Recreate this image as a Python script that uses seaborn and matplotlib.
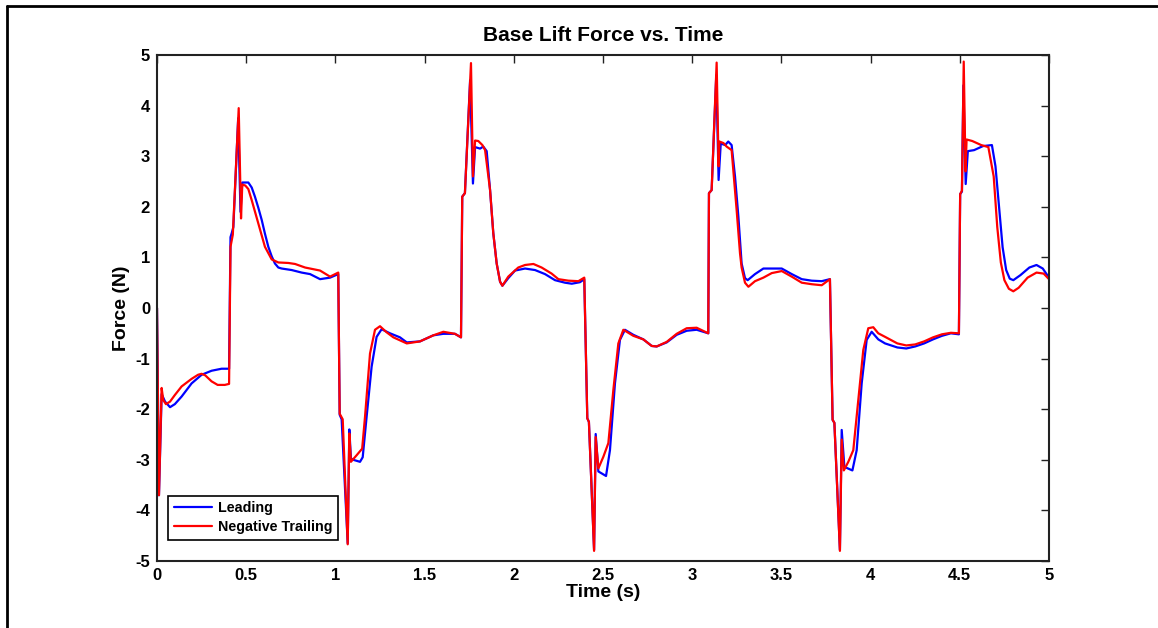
import matplotlib
matplotlib.use("Agg")
import matplotlib.pyplot as plt
from matplotlib.lines import Line2D
import seaborn as sns
import pandas as pd

# ---- data ----
lead_t = [0.000, 0.011, 0.026, 0.045, 0.073, 0.100, 0.138, 0.194, 0.250, 0.306,
          0.362, 0.404, 0.412, 0.419, 0.428, 0.455, 0.468, 0.478, 0.512, 0.531,
          0.549, 0.568, 0.587, 0.605, 0.624, 0.643, 0.661, 0.680, 0.699, 0.755,
          0.811, 0.858, 0.914, 0.970, 1.016, 1.024, 1.035, 1.069, 1.078, 1.087,
          1.100, 1.138, 1.153, 1.175, 1.203, 1.231, 1.259, 1.306, 1.362, 1.400,
          1.474, 1.549, 1.605, 1.670, 1.704, 1.711, 1.726, 1.755, 1.771, 1.783,
          1.811, 1.829, 1.848, 1.867, 1.885, 1.904, 1.923, 1.936, 1.969, 2.007,
          2.063, 2.119, 2.175, 2.231, 2.287, 2.325, 2.371, 2.395, 2.412, 2.421,
          2.450, 2.459, 2.474, 2.517, 2.539, 2.567, 2.595, 2.623, 2.670, 2.726,
          2.773, 2.801, 2.857, 2.913, 2.969, 3.025, 3.090, 3.094, 3.109, 3.135,
          3.148, 3.160, 3.185, 3.202, 3.221, 3.240, 3.259, 3.277, 3.296, 3.311,
          3.352, 3.399, 3.446, 3.502, 3.558, 3.614, 3.670, 3.726, 3.772, 3.787,
          3.797, 3.828, 3.838, 3.853, 3.898, 3.922, 3.950, 3.978, 4.006, 4.043,
          4.081, 4.150, 4.200, 4.250, 4.300, 4.350, 4.400, 4.450, 4.495, 4.502,
          4.512, 4.520, 4.533, 4.545, 4.580, 4.630, 4.680, 4.700, 4.720, 4.740,
          4.760, 4.780, 4.800, 4.840, 4.890, 4.930, 4.965, 5.000]
lead_v = [0.00, -3.70, -1.70, -1.85, -1.96, -1.90, -1.75, -1.49, -1.32, -1.24,
          -1.20, -1.20, 1.40, 1.48, 1.60, 3.75, 1.90, 2.48, 2.48, 2.38,
          2.20, 1.98, 1.74, 1.47, 1.21, 1.02, 0.88, 0.80, 0.78, 0.75,
          0.70, 0.67, 0.57, 0.60, 0.67, -2.11, -2.20, -4.65, -2.40, -2.97,
          -3.00, -3.04, -2.95, -2.15, -1.16, -0.57, -0.42, -0.50, -0.58, -0.68,
          -0.66, -0.54, -0.51, -0.51, -0.58, 2.20, 2.27, 4.50, 2.46, 3.18,
          3.15, 3.19, 3.10, 2.33, 1.48, 0.88, 0.52, 0.44, 0.59, 0.74,
          0.78, 0.75, 0.67, 0.55, 0.50, 0.48, 0.51, 0.57, -2.18, -2.25,
          -4.78, -2.49, -3.23, -3.32, -2.81, -1.49, -0.63, -0.43, -0.53, -0.62,
          -0.75, -0.76, -0.68, -0.53, -0.45, -0.43, -0.50, 2.27, 2.33, 4.60,
          2.53, 3.25, 3.22, 3.29, 3.22, 2.60, 1.80, 0.88, 0.59, 0.55,
          0.67, 0.78, 0.78, 0.78, 0.67, 0.57, 0.54, 0.53, 0.57, -2.21,
          -2.27, -4.78, -2.41, -3.14, -3.21, -2.81, -1.49, -0.63, -0.47, -0.62,
          -0.70, -0.78, -0.80, -0.76, -0.70, -0.62, -0.55, -0.50, -0.52, 2.25,
          2.30, 4.40, 2.45, 3.10, 3.12, 3.20, 3.22, 2.80, 2.00, 1.20,
          0.75, 0.58, 0.55, 0.65, 0.80, 0.85, 0.78, 0.60]

trail_t = [0.000, 0.011, 0.026, 0.035, 0.050, 0.073, 0.100, 0.138, 0.194, 0.230,
           0.250, 0.270, 0.306, 0.340, 0.380, 0.404, 0.412, 0.425, 0.458, 0.471,
           0.478, 0.495, 0.512, 0.531, 0.568, 0.605, 0.643, 0.680, 0.736, 0.774,
           0.830, 0.858, 0.914, 0.970, 1.016, 1.024, 1.041, 1.069, 1.078, 1.087,
           1.119, 1.150, 1.166, 1.194, 1.222, 1.250, 1.287, 1.325, 1.400, 1.474,
           1.549, 1.605, 1.670, 1.704, 1.711, 1.726, 1.760, 1.771, 1.783, 1.801,
           1.824, 1.839, 1.867, 1.885, 1.904, 1.923, 1.936, 1.969, 2.025, 2.063,
           2.110, 2.156, 2.212, 2.250, 2.306, 2.362, 2.395, 2.412, 2.421, 2.450,
           2.459, 2.474, 2.502, 2.530, 2.558, 2.586, 2.614, 2.670, 2.726, 2.773,
           2.801, 2.857, 2.913, 2.969, 3.025, 3.090, 3.094, 3.109, 3.137, 3.148,
           3.152, 3.175, 3.193, 3.221, 3.249, 3.268, 3.277, 3.296, 3.315, 3.352,
           3.399, 3.446, 3.502, 3.558, 3.614, 3.670, 3.726, 3.772, 3.787, 3.797,
           3.828, 3.838, 3.850, 3.875, 3.903, 3.931, 3.959, 3.987, 4.015, 4.043,
           4.081, 4.150, 4.200, 4.250, 4.300, 4.350, 4.400, 4.450, 4.495, 4.502,
           4.512, 4.522, 4.532, 4.538, 4.570, 4.620, 4.660, 4.690, 4.710, 4.730,
           4.750, 4.775, 4.800, 4.830, 4.880, 4.930, 4.970, 5.000]
trail_v = [0.00, -3.70, -1.58, -1.82, -1.90, -1.85, -1.72, -1.55, -1.40, -1.32,
           -1.30, -1.33, -1.45, -1.52, -1.52, -1.50, 1.21, 1.45, 3.95, 1.77,
           2.44, 2.42, 2.35, 2.13, 1.67, 1.21, 0.96, 0.90, 0.89, 0.87,
           0.80, 0.78, 0.74, 0.62, 0.70, -2.09, -2.20, -4.67, -2.48, -3.04,
           -2.91, -2.78, -2.15, -0.90, -0.43, -0.36, -0.48, -0.58, -0.70, -0.66,
           -0.54, -0.47, -0.51, -0.58, 2.20, 2.27, 4.84, 2.60, 3.31, 3.30,
           3.22, 3.12, 2.33, 1.48, 0.88, 0.52, 0.44, 0.62, 0.80, 0.85,
           0.87, 0.80, 0.68, 0.57, 0.54, 0.53, 0.60, -2.18, -2.25, -4.80,
           -2.55, -3.17, -2.94, -2.67, -1.62, -0.70, -0.43, -0.55, -0.62, -0.75,
           -0.76, -0.67, -0.51, -0.40, -0.39, -0.50, 2.27, 2.33, 4.85, 2.80,
           3.29, 3.26, 3.19, 3.12, 1.94, 1.08, 0.80, 0.50, 0.42, 0.53,
           0.60, 0.69, 0.73, 0.62, 0.50, 0.47, 0.45, 0.57, -2.21, -2.27,
           -4.80, -2.60, -3.21, -3.04, -2.81, -1.82, -0.83, -0.40, -0.38, -0.50,
           -0.57, -0.70, -0.74, -0.72, -0.66, -0.58, -0.52, -0.49, -0.50, 2.25,
           2.32, 4.87, 2.70, 3.33, 3.30, 3.22, 3.18, 2.60, 1.60, 0.90,
           0.55, 0.38, 0.33, 0.40, 0.60, 0.70, 0.68, 0.57]

series_names = ["Leading", "Negative Trailing"]
series_colors = ["#0000ff", "#ff0000"]
x_ticks = [0, 0.5, 1, 1.5, 2, 2.5, 3, 3.5, 4, 4.5, 5]
x_tick_labels = ["0", "0.5", "1", "1.5", "2", "2.5", "3", "3.5", "4", "4.5", "5"]
y_ticks = [-5, -4, -3, -2, -1, 0, 1, 2, 3, 4, 5]
y_tick_labels = [str(v) for v in y_ticks]

df = pd.concat([
    pd.DataFrame({"Time": lead_t, "Force": lead_v, "Series": series_names[0]}),
    pd.DataFrame({"Time": trail_t, "Force": trail_v, "Series": series_names[1]}),
], ignore_index=True)

sns.set_style("white")
plt.rcParams["font.family"] = ["Liberation Sans", "DejaVu Sans"]
plt.rcParams["font.weight"] = "bold"
plt.rcParams["text.color"] = "black"
plt.rcParams["axes.labelcolor"] = "black"
plt.rcParams["xtick.color"] = "black"
plt.rcParams["ytick.color"] = "black"

fig = plt.figure(figsize=(11.58, 6.28), dpi=100)
ax = fig.add_axes([157 / 1158, 1 - 561 / 628, 892 / 1158, 506 / 628])

sns.lineplot(data=df, x="Time", y="Force", hue="Series",
             palette=dict(zip(series_names, series_colors)),
             estimator=None, sort=False, linewidth=1.6, ax=ax)

ax.set_xlim(0, 5)
ax.set_ylim(-5, 5)
ax.set_xticks(x_ticks)
ax.set_xticklabels(x_tick_labels)
ax.set_yticks(y_ticks)
ax.set_yticklabels(y_tick_labels)
ax.tick_params(direction="in", length=6, width=1, top=True, right=True,
               labelsize=12, pad=5, color="#222222", labelcolor="black")
for lab in ax.get_xticklabels() + ax.get_yticklabels():
    lab.set_fontweight("bold")
for sp in ax.spines.values():
    sp.set_visible(True)
    sp.set_color("#222222")
    sp.set_linewidth(1.5)

ax.set_title("Base Lift Force vs. Time", fontsize=15, fontweight="bold",
             pad=10, color="black")
ax.set_xlabel("Time (s)", fontsize=14, fontweight="bold", labelpad=1,
              color="black")
ax.set_ylabel("Force (N)", fontsize=14, fontweight="bold", labelpad=4,
              color="black")

leg = ax.legend(loc="lower left", bbox_to_anchor=(11 / 892, 21 / 506),
                borderaxespad=0, fancybox=False, framealpha=1,
                edgecolor="black", fontsize=10.3, handlelength=2.7,
                borderpad=0.4, labelspacing=0.35, handletextpad=0.4)
leg.get_frame().set_linewidth(1.2)
for t in leg.get_texts():
    t.set_fontweight("bold")
    t.set_color("black")

# figure border (top and left edges visible in the reference)
fig.add_artist(Line2D([7 / 1158, 1.0], [1 - 6 / 628, 1 - 6 / 628],
                      transform=fig.transFigure, color="black", linewidth=2))
fig.add_artist(Line2D([7 / 1158, 7 / 1158], [0, 1 - 6 / 628],
                      transform=fig.transFigure, color="black", linewidth=2))

fig.savefig("out.png", dpi=100)
